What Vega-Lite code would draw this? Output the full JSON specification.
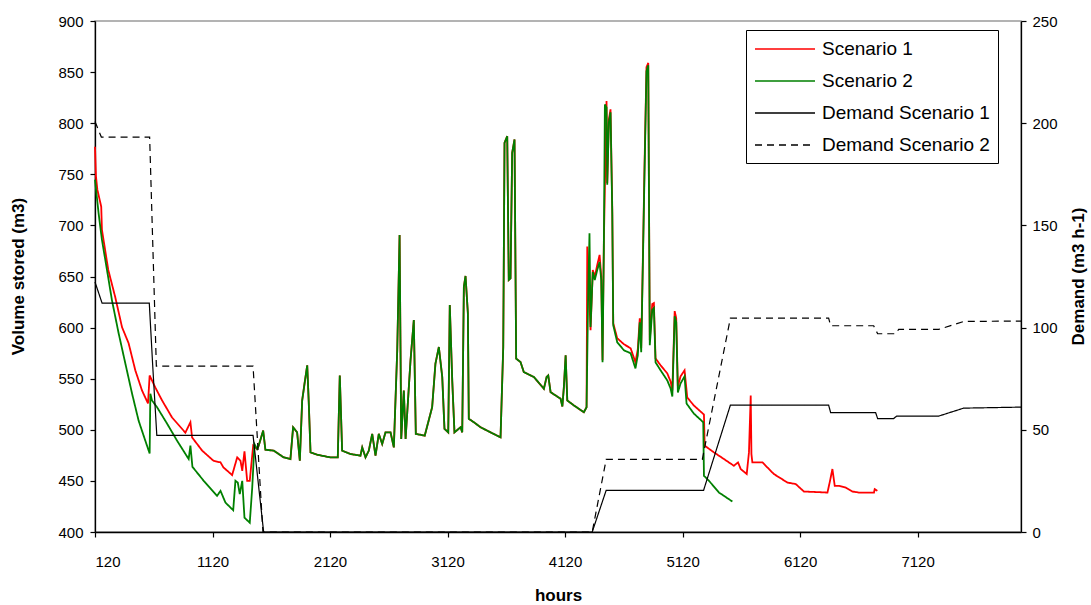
{
  "$schema": "https://vega.github.io/schema/vega-lite/v6.json",
  "width": 926,
  "height": 511,
  "autosize": {"type": "none"},
  "padding": {"left": 95, "top": 21, "right": 70, "bottom": 73},
  "background": "white",
  "config": {
    "view": {"stroke": "#9a9a9a", "strokeWidth": 1.5},
    "axis": {
      "grid": false,
      "labelFont": "Liberation Sans",
      "labelFontSize": 15,
      "labelColor": "#000",
      "titleFont": "Liberation Sans",
      "titleFontSize": 17,
      "titleFontWeight": "bold",
      "titleColor": "#000",
      "domainColor": "#000",
      "domainWidth": 1.3,
      "tickColor": "#000",
      "tickSize": 5,
      "tickWidth": 1.2
    },
    "legend": {
      "orient": "none",
      "legendX": 651,
      "legendY": 9,
      "strokeColor": "#000",
      "fillColor": "white",
      "padding": 8,
      "rowPadding": 11,
      "labelFont": "Liberation Sans",
      "labelFontSize": 19,
      "labelColor": "#000",
      "labelLimit": 400,
      "symbolType": "M-1,0H5",
      "symbolSize": 400,
      "symbolStrokeWidth": 1.6,
      "labelOffset": 46,
      "title": null
    }
  },
  "layer": [
    {
      "data": {"values": [
        {"s":"Scenario 1","h":120,"v":777},{"s":"Scenario 1","h":128,"v":748},{"s":"Scenario 1","h":140,"v":735},{"s":"Scenario 1","h":173,"v":718.3},{"s":"Scenario 1","h":179,"v":695.7},{"s":"Scenario 1","h":233,"v":656.4},{"s":"Scenario 1","h":292,"v":629.9},{"s":"Scenario 1","h":350,"v":600.4},{"s":"Scenario 1","h":406,"v":584.7},{"s":"Scenario 1","h":463,"v":558.2},{"s":"Scenario 1","h":520,"v":538.5},{"s":"Scenario 1","h":571,"v":525.8},{"s":"Scenario 1","h":585,"v":553.2},{"s":"Scenario 1","h":633,"v":541.4},{"s":"Scenario 1","h":691,"v":528.7},{"s":"Scenario 1","h":776,"v":512.0},{"s":"Scenario 1","h":889,"v":497.2},{"s":"Scenario 1","h":932,"v":507.4},{"s":"Scenario 1","h":946,"v":492.6},{"s":"Scenario 1","h":1032,"v":479.6},{"s":"Scenario 1","h":1128,"v":469.7},{"s":"Scenario 1","h":1188,"v":468.1},{"s":"Scenario 1","h":1213,"v":463.2},{"s":"Scenario 1","h":1287,"v":455.7},{"s":"Scenario 1","h":1330,"v":473.0},{"s":"Scenario 1","h":1358,"v":469.7},{"s":"Scenario 1","h":1373,"v":459.9},{"s":"Scenario 1","h":1392,"v":478.9},{"s":"Scenario 1","h":1415,"v":450.1},{"s":"Scenario 1","h":1437,"v":450.1},{"s":"Scenario 1","h":1466,"v":484.5},
        {"s":"Scenario 1","h":1499,"v":481.2},{"s":"Scenario 1","h":1513,"v":484.5},{"s":"Scenario 1","h":1551,"v":499.2},{"s":"Scenario 1","h":1570,"v":480.5},{"s":"Scenario 1","h":1641,"v":479.6},{"s":"Scenario 1","h":1726,"v":473.0},{"s":"Scenario 1","h":1783,"v":471.4},{"s":"Scenario 1","h":1806,"v":502.5},{"s":"Scenario 1","h":1840,"v":497.5},{"s":"Scenario 1","h":1863,"v":469.7},{"s":"Scenario 1","h":1883,"v":528.7},{"s":"Scenario 1","h":1903,"v":545.1},{"s":"Scenario 1","h":1926,"v":563.1},{"s":"Scenario 1","h":1939,"v":526.7},{"s":"Scenario 1","h":1954,"v":477.9},{"s":"Scenario 1","h":2011,"v":475.6},{"s":"Scenario 1","h":2123,"v":473.0},{"s":"Scenario 1","h":2186,"v":473.0},{"s":"Scenario 1","h":2203,"v":553.2},{"s":"Scenario 1","h":2223,"v":479.6},{"s":"Scenario 1","h":2294,"v":476.3},{"s":"Scenario 1","h":2379,"v":474.7},{"s":"Scenario 1","h":2394,"v":482.8},{"s":"Scenario 1","h":2422,"v":473.0},{"s":"Scenario 1","h":2450,"v":479.6},{"s":"Scenario 1","h":2479,"v":496.0},{"s":"Scenario 1","h":2507,"v":474.7},{"s":"Scenario 1","h":2535,"v":496.0},{"s":"Scenario 1","h":2564,"v":486.1},{"s":"Scenario 1","h":2592,"v":497.5},{"s":"Scenario 1","h":2635,"v":497.5},{"s":"Scenario 1","h":2663,"v":482.8},{"s":"Scenario 1","h":2692,"v":577.8},{"s":"Scenario 1","h":2712,"v":690.5},{"s":"Scenario 1","h":2726,"v":491.1},{"s":"Scenario 1","h":2748,"v":538.5},{"s":"Scenario 1","h":2763,"v":491.1},{"s":"Scenario 1","h":2805,"v":568.0},{"s":"Scenario 1","h":2833,"v":607.3},{"s":"Scenario 1","h":2850,"v":496.0},{"s":"Scenario 1","h":2926,"v":494.3},{"s":"Scenario 1","h":2989,"v":522.1},{"s":"Scenario 1","h":3017,"v":564.7},{"s":"Scenario 1","h":3046,"v":581.0},{"s":"Scenario 1","h":3075,"v":551.6},{"s":"Scenario 1","h":3094,"v":500.9},{"s":"Scenario 1","h":3126,"v":497.5},{"s":"Scenario 1","h":3139,"v":622.0},{"s":"Scenario 1","h":3160,"v":548.3},{"s":"Scenario 1","h":3179,"v":497.5},{"s":"Scenario 1","h":3231,"v":502.5},{"s":"Scenario 1","h":3245,"v":497.5},{"s":"Scenario 1","h":3259,"v":640.0},{"s":"Scenario 1","h":3273,"v":650.5},{"s":"Scenario 1","h":3293,"v":614.1},{"s":"Scenario 1","h":3301,"v":510.7},{"s":"Scenario 1","h":3344,"v":507.4},{"s":"Scenario 1","h":3401,"v":502.5},{"s":"Scenario 1","h":3486,"v":497.5},{"s":"Scenario 1","h":3571,"v":492.6},{"s":"Scenario 1","h":3594,"v":581.0},{"s":"Scenario 1","h":3605,"v":780.8},{"s":"Scenario 1","h":3628,"v":787.3},{"s":"Scenario 1","h":3641,"v":646.6},{"s":"Scenario 1","h":3656,"v":648.2},{"s":"Scenario 1","h":3670,"v":771.0},{"s":"Scenario 1","h":3690,"v":784.1},{"s":"Scenario 1","h":3704,"v":569.6},{"s":"Scenario 1","h":3741,"v":566.3},{"s":"Scenario 1","h":3769,"v":556.5},{"s":"Scenario 1","h":3855,"v":551.6},{"s":"Scenario 1","h":3940,"v":540.2},{"s":"Scenario 1","h":3963,"v":551.6},{"s":"Scenario 1","h":3977,"v":553.2},{"s":"Scenario 1","h":3997,"v":536.8},{"s":"Scenario 1","h":4082,"v":530.4},{"s":"Scenario 1","h":4097,"v":522.8},{"s":"Scenario 1","h":4110,"v":541.7},{"s":"Scenario 1","h":4125,"v":572.9},{"s":"Scenario 1","h":4139,"v":528.7},{"s":"Scenario 1","h":4196,"v":523.8},{"s":"Scenario 1","h":4280,"v":517.2},{"s":"Scenario 1","h":4303,"v":522.1},
        {"s":"Scenario 1","h":4309,"v":679.3},{"s":"Scenario 1","h":4337,"v":597.4},{"s":"Scenario 1","h":4356,"v":656.4},{"s":"Scenario 1","h":4373,"v":649.8},{"s":"Scenario 1","h":4394,"v":661.3},{"s":"Scenario 1","h":4414,"v":671.1},{"s":"Scenario 1","h":4428,"v":649.8},{"s":"Scenario 1","h":4439,"v":568.0},{"s":"Scenario 1","h":4450,"v":682.9},{"s":"Scenario 1","h":4473,"v":821.7},{"s":"Scenario 1","h":4479,"v":741.5},{"s":"Scenario 1","h":4493,"v":803.7},{"s":"Scenario 1","h":4507,"v":813.6},{"s":"Scenario 1","h":4522,"v":715.4},{"s":"Scenario 1","h":4530,"v":604.3},{"s":"Scenario 1","h":4564,"v":589.6},{"s":"Scenario 1","h":4621,"v":583.7},{"s":"Scenario 1","h":4678,"v":579.8},{"s":"Scenario 1","h":4719,"v":566.0},{"s":"Scenario 1","h":4739,"v":578.8},{"s":"Scenario 1","h":4756,"v":609.2},{"s":"Scenario 1","h":4768,"v":579.8},{"s":"Scenario 1","h":4782,"v":666.2},{"s":"Scenario 1","h":4796,"v":756.6},{"s":"Scenario 1","h":4813,"v":854.8},{"s":"Scenario 1","h":4828,"v":859.0},{"s":"Scenario 1","h":4841,"v":587.6},{"s":"Scenario 1","h":4862,"v":623.0},{"s":"Scenario 1","h":4876,"v":624.0},{"s":"Scenario 1","h":4890,"v":569.9},{"s":"Scenario 1","h":4933,"v":563.1},{"s":"Scenario 1","h":4990,"v":555.2},{"s":"Scenario 1","h":5018,"v":547.3},{"s":"Scenario 1","h":5033,"v":538.5},{"s":"Scenario 1","h":5053,"v":616.1},{"s":"Scenario 1","h":5066,"v":609.2},{"s":"Scenario 1","h":5080,"v":542.4},{"s":"Scenario 1","h":5103,"v":552.3},{"s":"Scenario 1","h":5137,"v":558.2},{"s":"Scenario 1","h":5160,"v":531.6},{"s":"Scenario 1","h":5216,"v":523.8},{"s":"Scenario 1","h":5302,"v":514.9},{"s":"Scenario 1","h":5308,"v":484.5},{"s":"Scenario 1","h":5387,"v":477.9},{"s":"Scenario 1","h":5472,"v":471.4},{"s":"Scenario 1","h":5557,"v":464.8},{"s":"Scenario 1","h":5592,"v":468.1},{"s":"Scenario 1","h":5615,"v":461.6},{"s":"Scenario 1","h":5666,"v":456.7},{"s":"Scenario 1","h":5685,"v":477.9},{"s":"Scenario 1","h":5700,"v":533.6},{"s":"Scenario 1","h":5706,"v":476.3},{"s":"Scenario 1","h":5714,"v":468.1},{"s":"Scenario 1","h":5800,"v":468.1},{"s":"Scenario 1","h":5828,"v":464.8},{"s":"Scenario 1","h":5897,"v":456.7},{"s":"Scenario 1","h":6012,"v":448.4},{"s":"Scenario 1","h":6083,"v":446.9},{"s":"Scenario 1","h":6153,"v":439.6},{"s":"Scenario 1","h":6353,"v":438.6},{"s":"Scenario 1","h":6375,"v":450.1},{"s":"Scenario 1","h":6395,"v":461.6},{"s":"Scenario 1","h":6415,"v":445.2},{"s":"Scenario 1","h":6452,"v":445.2},{"s":"Scenario 1","h":6509,"v":443.5},{"s":"Scenario 1","h":6565,"v":439.6},{"s":"Scenario 1","h":6621,"v":438.6},{"s":"Scenario 1","h":6749,"v":438.6},{"s":"Scenario 1","h":6755,"v":441.9},{"s":"Scenario 1","h":6778,"v":440.3},
        {"s":"Scenario 2","h":120,"v":744.8},{"s":"Scenario 2","h":150,"v":712.4},{"s":"Scenario 2","h":179,"v":685.9},{"s":"Scenario 2","h":222,"v":656.4},{"s":"Scenario 2","h":264,"v":626.9},{"s":"Scenario 2","h":321,"v":594.5},{"s":"Scenario 2","h":378,"v":565.0},{"s":"Scenario 2","h":435,"v":535.6},{"s":"Scenario 2","h":491,"v":509.0},{"s":"Scenario 2","h":548,"v":489.4},{"s":"Scenario 2","h":585,"v":476.9},{"s":"Scenario 2","h":591,"v":535.3},{"s":"Scenario 2","h":605,"v":528.7},{"s":"Scenario 2","h":648,"v":522.1},{"s":"Scenario 2","h":733,"v":506.1},{"s":"Scenario 2","h":818,"v":489.4},{"s":"Scenario 2","h":917,"v":471.4},{"s":"Scenario 2","h":932,"v":484.5},{"s":"Scenario 2","h":949,"v":463.8},{"s":"Scenario 2","h":1045,"v":450.1},{"s":"Scenario 2","h":1159,"v":435.4},{"s":"Scenario 2","h":1188,"v":440.3},{"s":"Scenario 2","h":1230,"v":428.8},{"s":"Scenario 2","h":1296,"v":421.3},{"s":"Scenario 2","h":1315,"v":450.1},{"s":"Scenario 2","h":1335,"v":448.4},{"s":"Scenario 2","h":1352,"v":437.0},{"s":"Scenario 2","h":1373,"v":450.1},{"s":"Scenario 2","h":1392,"v":414.0},{"s":"Scenario 2","h":1437,"v":409.1},{"s":"Scenario 2","h":1458,"v":443.5},{"s":"Scenario 2","h":1477,"v":486.1},
        {"s":"Scenario 2","h":1499,"v":481.2},{"s":"Scenario 2","h":1513,"v":484.5},{"s":"Scenario 2","h":1551,"v":499.2},{"s":"Scenario 2","h":1570,"v":480.5},{"s":"Scenario 2","h":1641,"v":479.6},{"s":"Scenario 2","h":1726,"v":473.0},{"s":"Scenario 2","h":1783,"v":471.4},{"s":"Scenario 2","h":1806,"v":502.5},{"s":"Scenario 2","h":1840,"v":497.5},{"s":"Scenario 2","h":1863,"v":469.7},{"s":"Scenario 2","h":1883,"v":528.7},{"s":"Scenario 2","h":1903,"v":545.1},{"s":"Scenario 2","h":1926,"v":563.1},{"s":"Scenario 2","h":1939,"v":526.7},{"s":"Scenario 2","h":1954,"v":477.9},{"s":"Scenario 2","h":2011,"v":475.6},{"s":"Scenario 2","h":2123,"v":473.0},{"s":"Scenario 2","h":2186,"v":473.0},{"s":"Scenario 2","h":2203,"v":553.2},{"s":"Scenario 2","h":2223,"v":479.6},{"s":"Scenario 2","h":2294,"v":476.3},{"s":"Scenario 2","h":2379,"v":474.7},{"s":"Scenario 2","h":2394,"v":482.8},{"s":"Scenario 2","h":2422,"v":473.0},{"s":"Scenario 2","h":2450,"v":479.6},{"s":"Scenario 2","h":2479,"v":496.0},{"s":"Scenario 2","h":2507,"v":474.7},{"s":"Scenario 2","h":2535,"v":496.0},{"s":"Scenario 2","h":2564,"v":486.1},{"s":"Scenario 2","h":2592,"v":497.5},{"s":"Scenario 2","h":2635,"v":497.5},{"s":"Scenario 2","h":2663,"v":482.8},{"s":"Scenario 2","h":2692,"v":577.8},{"s":"Scenario 2","h":2712,"v":690.5},{"s":"Scenario 2","h":2726,"v":491.1},{"s":"Scenario 2","h":2748,"v":538.5},{"s":"Scenario 2","h":2763,"v":491.1},{"s":"Scenario 2","h":2805,"v":568.0},{"s":"Scenario 2","h":2833,"v":607.3},{"s":"Scenario 2","h":2850,"v":496.0},{"s":"Scenario 2","h":2926,"v":494.3},{"s":"Scenario 2","h":2989,"v":522.1},{"s":"Scenario 2","h":3017,"v":564.7},{"s":"Scenario 2","h":3046,"v":581.0},{"s":"Scenario 2","h":3075,"v":551.6},{"s":"Scenario 2","h":3094,"v":500.9},{"s":"Scenario 2","h":3126,"v":497.5},{"s":"Scenario 2","h":3139,"v":622.0},{"s":"Scenario 2","h":3160,"v":548.3},{"s":"Scenario 2","h":3179,"v":497.5},{"s":"Scenario 2","h":3231,"v":502.5},{"s":"Scenario 2","h":3245,"v":497.5},{"s":"Scenario 2","h":3259,"v":640.0},{"s":"Scenario 2","h":3273,"v":650.5},{"s":"Scenario 2","h":3293,"v":614.1},{"s":"Scenario 2","h":3301,"v":510.7},{"s":"Scenario 2","h":3344,"v":507.4},{"s":"Scenario 2","h":3401,"v":502.5},{"s":"Scenario 2","h":3486,"v":497.5},{"s":"Scenario 2","h":3571,"v":492.6},{"s":"Scenario 2","h":3594,"v":581.0},{"s":"Scenario 2","h":3605,"v":780.8},{"s":"Scenario 2","h":3628,"v":787.3},{"s":"Scenario 2","h":3641,"v":646.6},{"s":"Scenario 2","h":3656,"v":648.2},{"s":"Scenario 2","h":3670,"v":771.0},{"s":"Scenario 2","h":3690,"v":784.1},{"s":"Scenario 2","h":3704,"v":569.6},{"s":"Scenario 2","h":3741,"v":566.3},{"s":"Scenario 2","h":3769,"v":556.5},{"s":"Scenario 2","h":3855,"v":551.6},{"s":"Scenario 2","h":3940,"v":540.2},{"s":"Scenario 2","h":3963,"v":551.6},{"s":"Scenario 2","h":3977,"v":553.2},{"s":"Scenario 2","h":3997,"v":536.8},{"s":"Scenario 2","h":4082,"v":530.4},{"s":"Scenario 2","h":4097,"v":522.8},{"s":"Scenario 2","h":4110,"v":541.7},{"s":"Scenario 2","h":4125,"v":572.9},{"s":"Scenario 2","h":4139,"v":528.7},{"s":"Scenario 2","h":4196,"v":523.8},{"s":"Scenario 2","h":4280,"v":517.2},{"s":"Scenario 2","h":4303,"v":522.1},
        {"s":"Scenario 2","h":4316,"v":626.9},{"s":"Scenario 2","h":4328,"v":692.4},{"s":"Scenario 2","h":4337,"v":600.7},{"s":"Scenario 2","h":4356,"v":654.4},{"s":"Scenario 2","h":4373,"v":646.6},{"s":"Scenario 2","h":4394,"v":656.4},{"s":"Scenario 2","h":4414,"v":664.2},{"s":"Scenario 2","h":4428,"v":646.6},{"s":"Scenario 2","h":4439,"v":566.0},{"s":"Scenario 2","h":4450,"v":676.0},{"s":"Scenario 2","h":4459,"v":818.4},{"s":"Scenario 2","h":4473,"v":815.4},{"s":"Scenario 2","h":4479,"v":739.9},{"s":"Scenario 2","h":4493,"v":800.8},{"s":"Scenario 2","h":4507,"v":810.6},{"s":"Scenario 2","h":4522,"v":710.4},{"s":"Scenario 2","h":4530,"v":602.4},{"s":"Scenario 2","h":4564,"v":585.7},{"s":"Scenario 2","h":4621,"v":577.8},{"s":"Scenario 2","h":4678,"v":574.9},{"s":"Scenario 2","h":4719,"v":560.1},{"s":"Scenario 2","h":4739,"v":572.9},{"s":"Scenario 2","h":4756,"v":605.3},{"s":"Scenario 2","h":4768,"v":575.8},{"s":"Scenario 2","h":4782,"v":661.3},{"s":"Scenario 2","h":4796,"v":749.7},{"s":"Scenario 2","h":4813,"v":850.9},{"s":"Scenario 2","h":4828,"v":856.8},{"s":"Scenario 2","h":4841,"v":582.7},{"s":"Scenario 2","h":4862,"v":617.1},{"s":"Scenario 2","h":4876,"v":619.1},{"s":"Scenario 2","h":4890,"v":566.0},{"s":"Scenario 2","h":4933,"v":558.2},{"s":"Scenario 2","h":4990,"v":548.3},{"s":"Scenario 2","h":5018,"v":540.5},{"s":"Scenario 2","h":5033,"v":532.6},{"s":"Scenario 2","h":5053,"v":611.2},{"s":"Scenario 2","h":5066,"v":605.3},{"s":"Scenario 2","h":5080,"v":536.5},{"s":"Scenario 2","h":5103,"v":545.4},{"s":"Scenario 2","h":5137,"v":552.3},{"s":"Scenario 2","h":5154,"v":525.7},{"s":"Scenario 2","h":5216,"v":515.9},{"s":"Scenario 2","h":5296,"v":507.4},{"s":"Scenario 2","h":5302,"v":455.0},{"s":"Scenario 2","h":5345,"v":450.1},{"s":"Scenario 2","h":5430,"v":438.6},{"s":"Scenario 2","h":5472,"v":435.4},{"s":"Scenario 2","h":5544,"v":429.8}
      ]},
      "mark": {"type": "line", "strokeWidth": 1.8, "interpolate": "linear"},
      "encoding": {
        "x": {"field": "h", "type": "quantitative", "scale": {"domain": [120, 8000], "nice": false, "zero": false},
          "axis": {"title": "hours", "values": [120,1120,2120,3120,4120,5120,6120,7120], "format": "d", "labelPadding": 17, "titleY": 68, "titleBaseline": "alphabetic"}},
        "y": {"field": "v", "type": "quantitative", "scale": {"domain": [400, 900], "nice": false, "zero": false},
          "axis": {"title": "Volume stored (m3)", "values": [400,450,500,550,600,650,700,750,800,850,900], "labelPadding": 7, "titleAngle": 270, "titleBaseline": "middle", "titleX": -77, "titleY": 255, "titleAlign": "center"}},
        "color": {"field": "s", "type": "nominal", "scale": {"domain": ["Scenario 1","Scenario 2","Demand Scenario 1","Demand Scenario 2"], "range": ["#ff0000","#008000","#000000","#000000"]}},
        "strokeDash": {"field": "s", "type": "nominal", "scale": {"domain": ["Scenario 1","Scenario 2","Demand Scenario 1","Demand Scenario 2"], "range": [[1,0],[1,0],[1,0],[7,5]]}}
      }
    },
    {
      "data": {"values": [
        {"s":"Demand Scenario 1","h":120,"d":122.3},{"s":"Demand Scenario 1","h":180,"d":112.0},{"s":"Demand Scenario 1","h":582,"d":112.0},{"s":"Demand Scenario 1","h":610,"d":82.5},{"s":"Demand Scenario 1","h":646,"d":47.3},{"s":"Demand Scenario 1","h":1465,"d":47.3},{"s":"Demand Scenario 1","h":1555,"d":0},{"s":"Demand Scenario 1","h":4351,"d":0},{"s":"Demand Scenario 1","h":4470,"d":20.4},{"s":"Demand Scenario 1","h":5299,"d":20.4},{"s":"Demand Scenario 1","h":5527,"d":62.1},{"s":"Demand Scenario 1","h":6363,"d":62.1},{"s":"Demand Scenario 1","h":6380,"d":58.4},{"s":"Demand Scenario 1","h":6763,"d":58.4},{"s":"Demand Scenario 1","h":6780,"d":55.5},{"s":"Demand Scenario 1","h":6916,"d":55.5},{"s":"Demand Scenario 1","h":6942,"d":56.7},{"s":"Demand Scenario 1","h":7299,"d":56.7},{"s":"Demand Scenario 1","h":7512,"d":60.6},{"s":"Demand Scenario 1","h":8000,"d":61.1},
        {"s":"Demand Scenario 2","h":120,"d":200.8},{"s":"Demand Scenario 2","h":174,"d":193.2},{"s":"Demand Scenario 2","h":585,"d":193.2},{"s":"Demand Scenario 2","h":642,"d":81.2},{"s":"Demand Scenario 2","h":1465,"d":81.2},{"s":"Demand Scenario 2","h":1549,"d":0},{"s":"Demand Scenario 2","h":4351,"d":0},{"s":"Demand Scenario 2","h":4470,"d":35.5},{"s":"Demand Scenario 2","h":5288,"d":35.5},{"s":"Demand Scenario 2","h":5527,"d":104.6},{"s":"Demand Scenario 2","h":6363,"d":104.6},{"s":"Demand Scenario 2","h":6380,"d":100.9},{"s":"Demand Scenario 2","h":6746,"d":100.9},{"s":"Demand Scenario 2","h":6780,"d":97.0},{"s":"Demand Scenario 2","h":6933,"d":97.0},{"s":"Demand Scenario 2","h":6959,"d":99.1},{"s":"Demand Scenario 2","h":7299,"d":99.1},{"s":"Demand Scenario 2","h":7512,"d":103.0},{"s":"Demand Scenario 2","h":8000,"d":103.2}
      ]},
      "mark": {"type": "line", "strokeWidth": 1.2},
      "encoding": {
        "x": {"field": "h", "type": "quantitative"},
        "y": {"field": "d", "type": "quantitative", "scale": {"domain": [0, 250], "nice": false},
          "axis": {"orient": "right", "title": "Demand (m3 h-1)", "values": [0,50,100,150,200,250], "labelPadding": 6, "titleAngle": 270, "titleBaseline": "middle", "titleX": 57, "titleY": 255, "titleAlign": "center"}},
        "color": {"field": "s", "type": "nominal"},
        "strokeDash": {"field": "s", "type": "nominal"}
      }
    }
  ],
  "resolve": {"scale": {"y": "independent"}}
}
